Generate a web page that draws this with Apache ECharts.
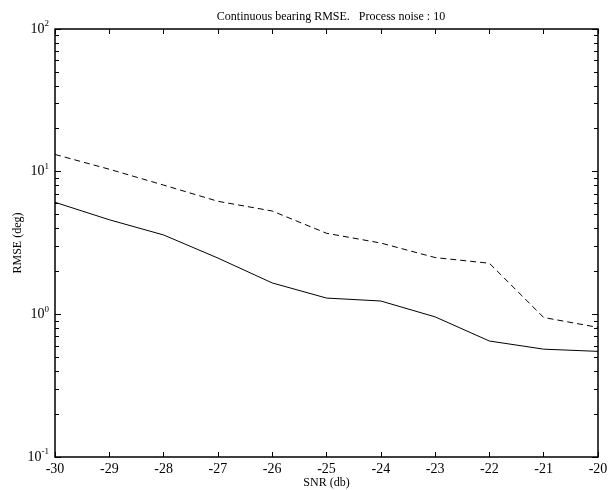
<!DOCTYPE html>
<html>
<head>
<meta charset="utf-8">
<script src="https://cdn.jsdelivr.net/npm/echarts@6/dist/echarts.min.js"></script>
<style>
html, body { margin: 0; padding: 0; background: #fff; }
#chart { width: 608px; height: 490px; }
</style>
</head>
<body>
<div id="chart"></div>
<script>
let snr = [-30, -29, -28, -27, -26, -25, -24, -23, -22, -21, -20];
let rmseSolid = [6.1, 4.6, 3.6, 2.48, 1.66, 1.3, 1.24, 0.96, 0.65, 0.57, 0.55];
let rmseDashed = [13.2, 10.4, 8.05, 6.2, 5.3, 3.7, 3.16, 2.5, 2.28, 0.95, 0.81];
let xTicks = [-30, -29, -28, -27, -26, -25, -24, -23, -22, -21, -20];
let yExp = { 0.1: '-1', 1: '0', 10: '1', 100: '2' };

let font = 'Liberation Serif';
let sup = v => '{b|10}{s|' + (yExp[v] !== undefined ? yExp[v] : Math.round(Math.log10(v))) + '}';
let rich = {
    b: { fontFamily: font, fontSize: 14, color: '#000' },
    s: { fontFamily: font, fontSize: 9, color: '#000', padding: [0, 0, 10, 0] }
};

let pair = data => snr.map((x, i) => [x, data[i]]);

let option = {
    animation: false,
    title: {
        text: 'Continuous bearing RMSE.   Process noise : 10',
        left: 326, top: 6, textAlign: 'center',
        textStyle: { fontFamily: font, fontSize: 12, fontWeight: 'normal', color: '#000' }
    },
    grid: {
        left: 55, right: 10, top: 29, bottom: 33,
        outerBoundsMode: 'none', containLabel: false,
        show: true, borderColor: '#000', borderWidth: 1.5
    },
    xAxis: [{
        type: 'value', min: -30, max: -20, interval: 1,
        name: 'SNR (db)', nameLocation: 'middle', nameGap: 20, nameMoveOverlap: false,
        nameTextStyle: { fontFamily: font, fontSize: 12, color: '#000' },
        axisLine: { show: false },
        axisTick: { inside: true, length: 5, lineStyle: { color: '#000' } },
        axisLabel: { fontFamily: font, fontSize: 14, color: '#000', margin: 5, formatter: v => xTicks.indexOf(v) >= 0 ? String(v) : '' },
        splitLine: { show: false }
    }, {
        type: 'value', min: -30, max: -20, interval: 1, position: 'top',
        axisLine: { show: false },
        axisTick: { inside: true, length: 5, lineStyle: { color: '#000' } },
        axisLabel: { show: false },
        splitLine: { show: false }
    }],
    yAxis: [{
        type: 'log', logBase: 10, min: 0.1, max: 100,
        name: 'RMSE (deg)', nameLocation: 'middle', nameGap: 31, nameMoveOverlap: false,
        nameTextStyle: { fontFamily: font, fontSize: 12, color: '#000' },
        axisLine: { show: false },
        axisTick: { inside: true, length: 6, lineStyle: { color: '#000' } },
        minorTick: { show: true, splitNumber: 9, length: 4, lineStyle: { color: '#000' } },
        axisLabel: { formatter: sup, rich: rich, margin: 6 },
        splitLine: { show: false }
    }, {
        type: 'log', logBase: 10, min: 0.1, max: 100, position: 'right',
        axisLine: { show: false },
        axisTick: { inside: true, length: 6, lineStyle: { color: '#000' } },
        minorTick: { show: true, splitNumber: 9, length: 4, lineStyle: { color: '#000' } },
        axisLabel: { show: false },
        splitLine: { show: false }
    }],
    series: [{
        type: 'line', data: pair(rmseDashed), showSymbol: false,
        lineStyle: { color: '#000', width: 1, type: [6, 4] }
    }, {
        type: 'line', data: pair(rmseSolid), showSymbol: false,
        lineStyle: { color: '#000', width: 1 }
    }]
};

let myChart = echarts.init(document.getElementById('chart'));
myChart.setOption(option);
</script>
</body>
</html>
